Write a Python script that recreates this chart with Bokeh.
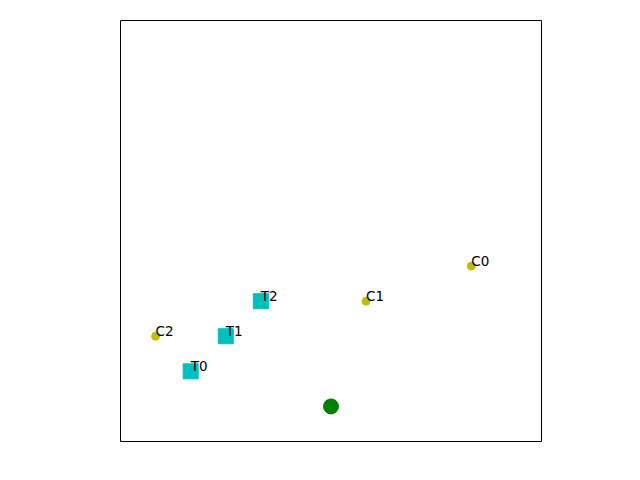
from bokeh.plotting import figure
from bokeh.models import Range1d, ColumnDataSource
from bokeh.core.properties import value
from bokeh.embed import file_html
from bokeh.resources import INLINE

target_x = [6]
target_y = [1]

t_labels = ["T0", "T1", "T2"]
t_x = [2, 3, 4]
t_y = [2, 3, 4]

c_labels = ["C0", "C1", "C2"]
c_x = [10, 7, 1]
c_y = [5, 4, 3]

p = figure(width=640, height=480, output_backend="svg", toolbar_location=None,
           x_range=Range1d(0, 12), y_range=Range1d(0, 12),
           min_border_left=120, min_border_right=99, min_border_top=20, min_border_bottom=39)
p.xaxis.visible = False
p.yaxis.visible = False
p.grid.visible = False
p.outline_line_color = "black"
p.outline_line_width = 1
p.outline_line_alpha = 1
p.background_fill_color = "white"
p.border_fill_color = "white"

p.scatter(c_x, c_y, marker="circle", size=8, fill_color="#bfbf00", line_color="#bfbf00")
p.scatter(t_x, t_y, marker="square", size=15, fill_color="#00bfbf", line_color="#00bfbf")
p.scatter(target_x, target_y, marker="circle", size=15, fill_color="#008000", line_color="#008000")

src_t = ColumnDataSource(dict(x=t_x, y=t_y, t=t_labels))
src_c = ColumnDataSource(dict(x=c_x, y=c_y, t=c_labels))
for s in (src_t, src_c):
    p.text(x="x", y="y", text="t", source=s, text_font=value("DejaVu Sans"),
           text_font_size="13.5px", text_baseline="bottom", text_align="left",
           y_offset=3, text_color="black")

open("out.html", "w").write(file_html(p, INLINE))
